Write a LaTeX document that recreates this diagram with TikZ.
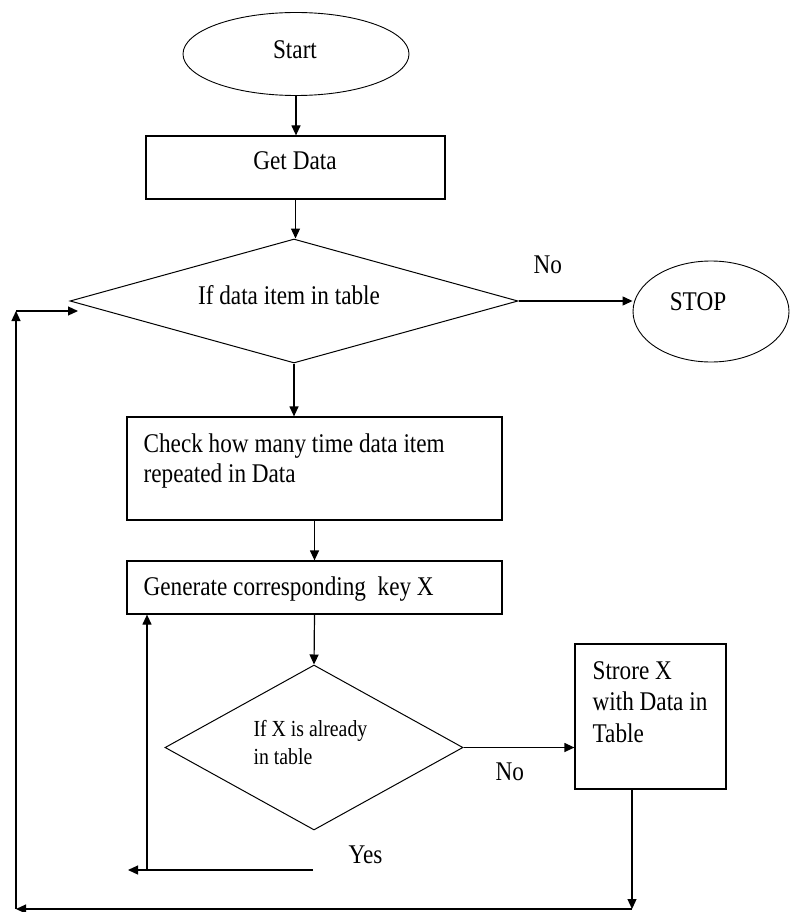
\documentclass[tikz,border=0pt]{standalone}
\usepackage{fontspec}
\setmainfont{Liberation Serif}[FakeStretch=0.86]
\usetikzlibrary{shapes.geometric,arrows.meta,calc}

\begin{document}
\begin{tikzpicture}[x=1pt,y=-1pt,
  line width=1.2pt,
  arr/.style={-{Triangle[length=10pt,width=9pt]}},
  oval/.style={ellipse,draw,line width=0.9pt,inner sep=0pt},
  boxnode/.style={rectangle,draw,inner sep=0pt},
  decision/.style={diamond,draw,line width=1pt,inner sep=0pt},
  txt/.style={inner sep=0pt,font=\fontsize{27}{29.5}\selectfont},
  smalltxt/.style={inner sep=0pt,font=\fontsize{23}{28}\selectfont}
]
\useasboundingbox (0,0) rectangle (790,912);

% shapes
\node[oval,minimum width=226pt,minimum height=83pt] (start) at (296,54) {};
\node[boxnode,minimum width=299pt,minimum height=63pt] (get) at (295.5,167.5) {};
\node[decision,minimum width=448pt,minimum height=124pt] (d1) at (294,301) {};
\node[oval,minimum width=156pt,minimum height=101pt] (stop) at (711,311.5) {};
\node[boxnode,minimum width=375pt,minimum height=103pt] (check) at (314.5,468.5) {};
\node[boxnode,minimum width=375pt,minimum height=53pt] (gen) at (314.5,587.5) {};
\node[decision,minimum width=298pt,minimum height=165pt] (d2) at (314,747.5) {};
\node[boxnode,minimum width=151pt,minimum height=145pt] (store) at (650.5,716.5) {};

% texts
\node[txt,anchor=base] (tstart) at (295,59) {Start};
\node[txt,anchor=base] (tget) at (295,170) {Get Data};
\node[txt,anchor=base] (td1) at (289,304) {If data item in table};
\node[txt,anchor=base] (tstop) at (698,310) {STOP};
\node[txt,anchor=base west] (tno1) at (533,273) {No};
\node[txt,anchor=base west] (tcheck1) at (143,452) {Check how many time data item};
\node[txt,anchor=base west] (tcheck2) at (143,482) {repeated in Data};
\node[txt,anchor=base west] (tgen) at (143,595) {Generate corresponding\ \ key X};
\node[smalltxt,anchor=base west] (td2a) at (253,736) {If X is already};
\node[smalltxt,anchor=base west] (td2b) at (253,764) {in table};
\node[txt,anchor=base west] (tno2) at (495,780) {No};
\node[txt,anchor=base west] (tyes) at (348,863) {Yes};
\node[txt,anchor=base west] (ts1) at (592,679) {Strore X};
\node[txt,anchor=base west] (ts2) at (592,710) {with Data in};
\node[txt,anchor=base west] (ts3) at (592,742) {Table};

% loop points
\coordinate (sdown) at (632,909);
\coordinate (lowL) at (16,909);
\coordinate (upL) at (16,311);
\coordinate (inL) at (78,311);
\coordinate (yesR) at (313,870);
\coordinate (yesL) at (128,870);
\coordinate (yesV) at (147,870);

% main flow
\draw[arr] (start.south) -- (start.south |- get.north);
\draw[arr] (get.south) -- (get.south |- d1.north);
\draw[arr] (d1.east) -- (d1.east -| stop.west);
\draw[arr] (d1.south) -- (d1.south |- check.north);
\draw[arr] (check.south) -- (gen.north);
\draw[arr] (gen.south) -- (d2.north);
\draw[arr] (d2.east) -- (d2.east -| store.west);

% "Yes" branch back to key generation
\draw[arr] (yesR) -- (yesL);
\draw[arr] (yesV) -- (yesV |- gen.south);

% return from storing to the table test
\draw[arr] (store.south -| sdown) -- (sdown);
\draw[arr] (sdown) -- (lowL);
\draw[arr] (lowL) -- (upL);
\draw[arr] (upL) -- (inL);
\end{tikzpicture}
\end{document}
